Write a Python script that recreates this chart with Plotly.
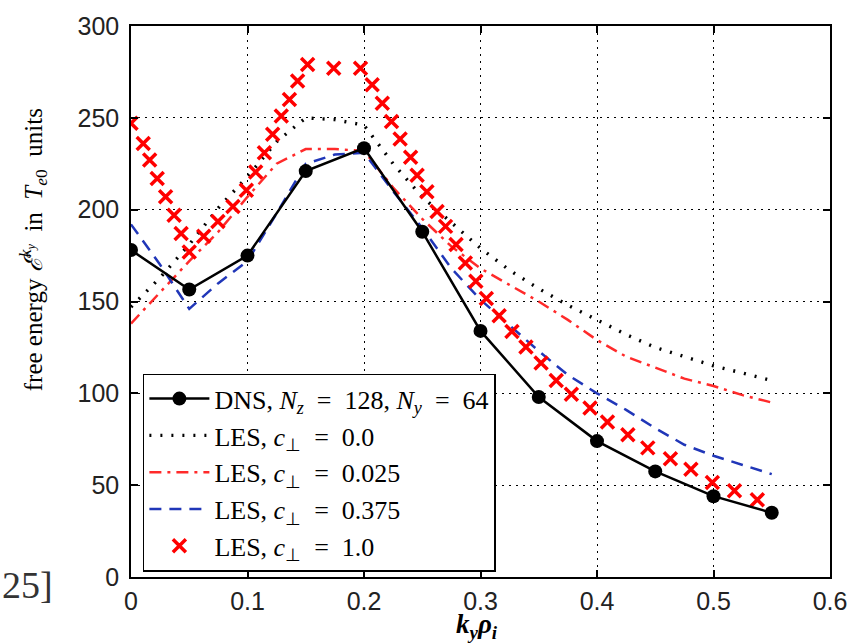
import plotly.graph_objects as go

# DNS data
dns_k = [0.0, 0.05, 0.10, 0.15, 0.20, 0.25, 0.30, 0.35, 0.40, 0.45, 0.50, 0.55]
dns_E = [178, 156.5, 175, 221, 233.5, 188, 134, 98, 74, 57.5, 44, 35]

# LES curves (smooth lines)
les_k = [0.0, 0.025, 0.05, 0.075, 0.10, 0.125, 0.15, 0.175, 0.20, 0.225, 0.25, 0.275,
         0.30, 0.325, 0.35, 0.375, 0.40, 0.425, 0.45, 0.475, 0.50, 0.525, 0.55]
les_c0 = [147, 163, 181, 201, 218, 237, 250, 249, 246, 225, 207, 193,
          179, 167, 157, 148, 140, 132, 125, 120, 115, 111, 107]
les_c0025 = [138, 155, 172, 188, 207, 225, 233, 233, 232, 212, 195, 180,
             168, 159, 150, 140, 129, 120, 114, 108, 104, 99, 95]
les_c0375 = [192, 170, 146, 160, 172, 198, 225, 230, 231, 210, 190, 168,
             151, 137, 123, 110, 100, 91, 81, 72, 66, 61, 56]

# LES c=1.0 (markers only)
les1_k = [0.0, 0.0105, 0.016, 0.0225, 0.0297, 0.037, 0.043, 0.050, 0.0624, 0.0746,
          0.0875, 0.099, 0.107, 0.1145, 0.1216, 0.129, 0.136, 0.143, 0.1516, 0.174,
          0.197, 0.207, 0.2157, 0.2236, 0.231, 0.24, 0.2456, 0.254, 0.2627, 0.27,
          0.279, 0.287, 0.296, 0.305, 0.316, 0.327, 0.339, 0.352, 0.365, 0.378,
          0.394, 0.409, 0.4265, 0.4436, 0.463, 0.4806, 0.499, 0.518, 0.5376]
les1_E = [247, 236, 227, 217, 207, 197, 187, 177, 185.5, 193.6,
          201.7, 210.6, 220.5, 231, 241, 251, 260, 270, 279, 277,
          277, 268, 258, 248, 238.5, 228.6, 218.7, 209.8, 199, 190.9,
          181, 171, 161, 151.6, 142.3, 133.7, 125.2, 116.5, 107, 99.5,
          92, 84.4, 77.5, 70.3, 64.4, 58.7, 51.4, 47, 42]

x_ticks = [0, 0.1, 0.2, 0.3, 0.4, 0.5, 0.6]
x_tick_text = ["0", "0.1", "0.2", "0.3", "0.4", "0.5", "0.6"]
y_ticks = [0, 50, 100, 150, 200, 250, 300]

names = [
    "DNS, <i>N<sub>z</sub></i>  =  128, <i>N<sub>y</sub></i>  =  64",
    "LES, <i>c</i><sub>⊥</sub>  =  0.0",
    "LES, <i>c</i><sub>⊥</sub>  =  0.025",
    "LES, <i>c</i><sub>⊥</sub>  =  0.375",
    "LES, <i>c</i><sub>⊥</sub>  =  1.0",
]

fig = go.Figure()
fig.add_trace(go.Scatter(x=les_k, y=les_c0, mode="lines", name=names[1], legendrank=2,
                         line=dict(color="black", width=3.4, dash="2px,9px")))
fig.add_trace(go.Scatter(x=les_k, y=les_c0025, mode="lines", name=names[2], legendrank=3,
                         line=dict(color="#ff2a2a", width=2.5, dash="12px,6px,3px,6px")))
fig.add_trace(go.Scatter(x=les_k, y=les_c0375, mode="lines", name=names[3], legendrank=4,
                         line=dict(color="#2036b8", width=2.5, dash="12px,8px")))
fig.add_trace(go.Scatter(x=les1_k, y=les1_E, mode="markers", name=names[4], legendrank=5,
                         marker=dict(symbol="x-thin-open", size=13, color="#ff0000",
                                     line=dict(color="#ff0000", width=3.5))))
fig.add_trace(go.Scatter(x=dns_k, y=dns_E, mode="lines+markers", name=names[0], legendrank=1,
                         line=dict(color="black", width=2.5),
                         marker=dict(symbol="circle", size=14, color="black")))

axis_common = dict(showline=True, linecolor="black", linewidth=1.5, mirror="ticks",
                   ticks="inside", ticklen=7, tickwidth=1.5, tickcolor="black",
                   showgrid=True, gridcolor="black", gridwidth=1.3, griddash="2px,5px",
                   zeroline=False,
                   tickfont=dict(family="Liberation Sans", size=25, color="#222"))

fig.update_xaxes(range=[0, 0.6], tickvals=x_ticks, ticktext=x_tick_text,
                 ticklabelstandoff=1, **axis_common)
fig.update_yaxes(range=[0, 300], tickvals=y_ticks, ticklabelstandoff=5, **axis_common)

fig.update_layout(
    width=859, height=643,
    margin=dict(l=131, r=27, t=21, b=66),
    paper_bgcolor="white", plot_bgcolor="white",
    showlegend=True,
    legend=dict(x=0.017, y=0.369, xanchor="left", yanchor="top",
                bgcolor="white", bordercolor="black", borderwidth=1.5,
                font=dict(family="Liberation Serif", size=26, color="black"),
                tracegroupgap=3, itemwidth=60),
    annotations=[
        dict(text="free energy <i>ℰ</i><sup><i>k<sub>y</sub></i></sup>  in  <i>T</i><sub><i>e</i>0</sub>  units",
             xref="paper", yref="paper", x=(33 - 131) / 701, y=(577 - 247) / 556,
             xanchor="center", yanchor="middle", textangle=-90, showarrow=False,
             font=dict(family="Liberation Serif", size=25, color="black")),
        dict(text="<b><i>k<sub>y</sub>ρ<sub>i</sub></i></b>",
             xref="paper", yref="paper", x=(478 - 131) / 701, y=(577 - 626) / 556,
             xanchor="center", yanchor="middle", showarrow=False,
             font=dict(family="Liberation Serif", size=27, color="black")),
        dict(text="25]",
             xref="paper", yref="paper", x=(0 - 131) / 701, y=(577 - 585) / 556,
             xanchor="left", yanchor="middle", showarrow=False,
             font=dict(family="Liberation Serif", size=38, color="#333")),
    ],
)

fig.write_html("out.html")
